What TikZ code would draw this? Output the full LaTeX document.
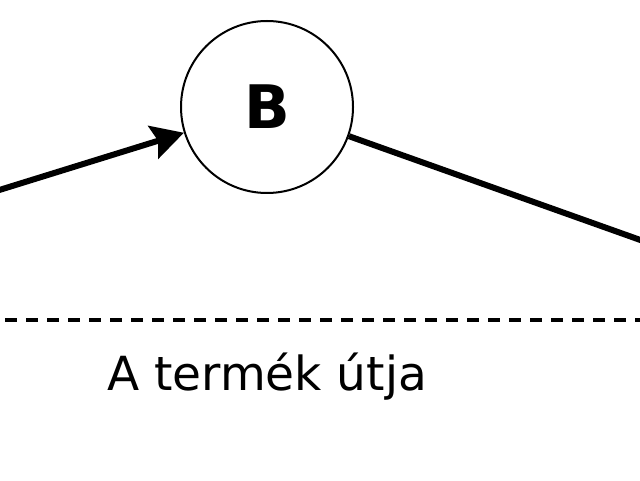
\documentclass[tikz,border=0pt]{standalone}
\usepackage{fontspec}
\setmainfont{DejaVu Sans}
\usetikzlibrary{arrows.meta}

\begin{document}
\begin{tikzpicture}[
    x=0.5pt, y=-0.5pt,
    >={Stealth[length=16pt,width=17pt,inset=2.5pt]},
    flow/.style={
        line width=3pt,
        black,
    },
    station/.style={
        circle,
        draw,
        line width=1pt,
        minimum size=86pt,
        inner sep=0pt,
        font=\fontsize{30}{35}\selectfont\bfseries,
    },
    border/.style={
        line width=2pt,
        dash pattern=on 6pt off 4.5pt,
        dash phase=-2.5pt,
    },
    caption/.style={
        font=\fontsize{23.5}{28}\selectfont,
    },
]
    \useasboundingbox (0,0) rectangle (640,480);
    \clip (0,0) rectangle (640,480);

    % Station
    \node[station] (b) at (267,107) {B};

    % Flow in and out (cut off at the edges)
    \coordinate (inl) at (-20,196);
    \coordinate (outr) at (660,247);
    \draw[flow,->] (inl) -- (b);
    \draw[flow] (b) -- (outr);

    % Border line
    \coordinate (bl) at (0,320);
    \coordinate (br) at (640,320);
    \draw[border] (bl) -- (br);

    \node[caption] (path) at (267,377) {A termék útja};
\end{tikzpicture}
\end{document}
